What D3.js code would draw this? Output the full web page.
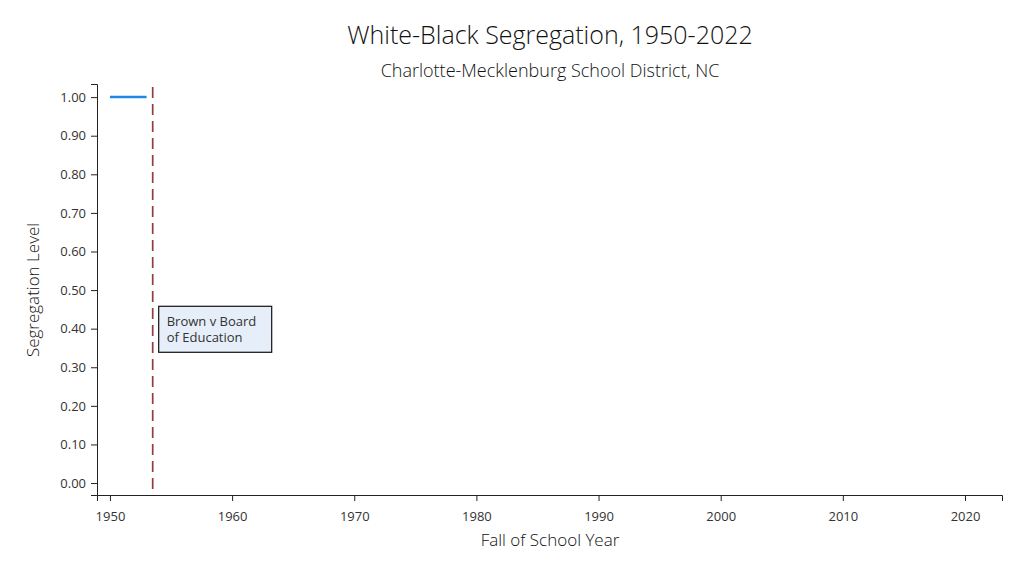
<!DOCTYPE html>
<html>
<head>
<meta charset="utf-8">
<style>
  body { margin: 0; background: #fff; font-family: "Open Sans", sans-serif; }
  .axis text { font-family: "Open Sans", sans-serif; font-size: 13px; fill: #333; }
  .axis path, .axis line { stroke: #222; }
</style>
<title>White-Black Segregation</title>
</head>
<body>
<script src="https://cdn.jsdelivr.net/npm/d3@7"></script>
<script>
// data
var years = [1950, 1951, 1952, 1953];
var segregation = [1.0, 1.0, 1.0, 1.0];
var xTicks = [1950, 1960, 1970, 1980, 1990, 2000, 2010, 2020];
var yTicks = [0, 0.1, 0.2, 0.3, 0.4, 0.5, 0.6, 0.7, 0.8, 0.9, 1.0];
var brownYear = [1953.5];
var brownLabel = ["Brown v Board", "of Education"];

var W = 1024, H = 576;
var mLeft = 97, mRight = 1002, mTop = 84, mBottom = 495;

var x = d3.scaleLinear().domain([1948.94, 2023.03]).range([mLeft, mRight]);
var y = d3.scaleLinear().domain([-0.031, 1.034]).range([mBottom, mTop]);

var svg = d3.select("body").append("svg")
    .attr("width", W)
    .attr("height", H);

// titles
svg.append("text")
    .attr("x", 550).attr("y", 44)
    .attr("text-anchor", "middle")
    .style("font-size", "25px").style("fill", "#111").style("font-weight", 300)
    .text("White-Black Segregation, 1950-2022");

svg.append("text")
    .attr("x", 550).attr("y", 77)
    .attr("text-anchor", "middle")
    .style("font-size", "18px").style("fill", "#111").style("font-weight", 300)
    .text("Charlotte-Mecklenburg School District, NC");

// axes
svg.append("g")
    .attr("class", "axis")
    .attr("transform", "translate(0," + mBottom + ")")
    .call(d3.axisBottom(x).tickValues(xTicks).tickFormat(d3.format("d")).tickSizeOuter(0).tickSize(6).tickPadding(11));

svg.append("g")
    .attr("class", "axis")
    .attr("transform", "translate(" + mLeft + ",0)")
    .call(d3.axisLeft(y).tickValues(yTicks).tickFormat(d3.format(".2f")).tickSizeOuter(0).tickSize(6).tickPadding(5));

svg.append("text")
    .attr("x", 550).attr("y", 546)
    .attr("text-anchor", "middle")
    .style("font-size", "17px").style("fill", "#111").style("font-weight", 300)
    .text("Fall of School Year");

svg.append("text")
    .attr("transform", "translate(39," + 290 + ") rotate(-90)")
    .attr("text-anchor", "middle")
    .style("font-size", "17px").style("fill", "#111").style("font-weight", 300)
    .text("Segregation Level");

// Brown v Board marker
svg.selectAll(".brown")
    .data(brownYear)
  .enter().append("line")
    .attr("class", "brown")
    .attr("x1", d => x(d)).attr("x2", d => x(d))
    .attr("y1", mTop + 3).attr("y2", mBottom)
    .attr("stroke", "#8e3e44")
    .attr("stroke-width", 1.7)
    .attr("stroke-dasharray", "11,6");

var note = svg.append("g")
    .attr("transform", "translate(" + (x(brownYear[0]) + 6) + "," + y(0.5 - 0.042) + ")");
note.append("rect")
    .attr("width", 113).attr("height", 46)
    .attr("fill", "#e6eef9")
    .attr("stroke", "#111")
    .attr("stroke-width", 1.2);
note.selectAll("text")
    .data(brownLabel)
  .enter().append("text")
    .attr("x", 8)
    .attr("y", (d, i) => 20 + i * 16)
    .style("font-size", "13px").style("fill", "#333")
    .text(d => d);

// segregation series
var line = d3.line()
    .x((d, i) => x(years[i]))
    .y(d => y(d));

svg.append("path")
    .datum(segregation)
    .attr("d", line)
    .attr("fill", "none")
    .attr("stroke", "#1e88e5")
    .attr("stroke-width", 2.5);
</script>
</body>
</html>
